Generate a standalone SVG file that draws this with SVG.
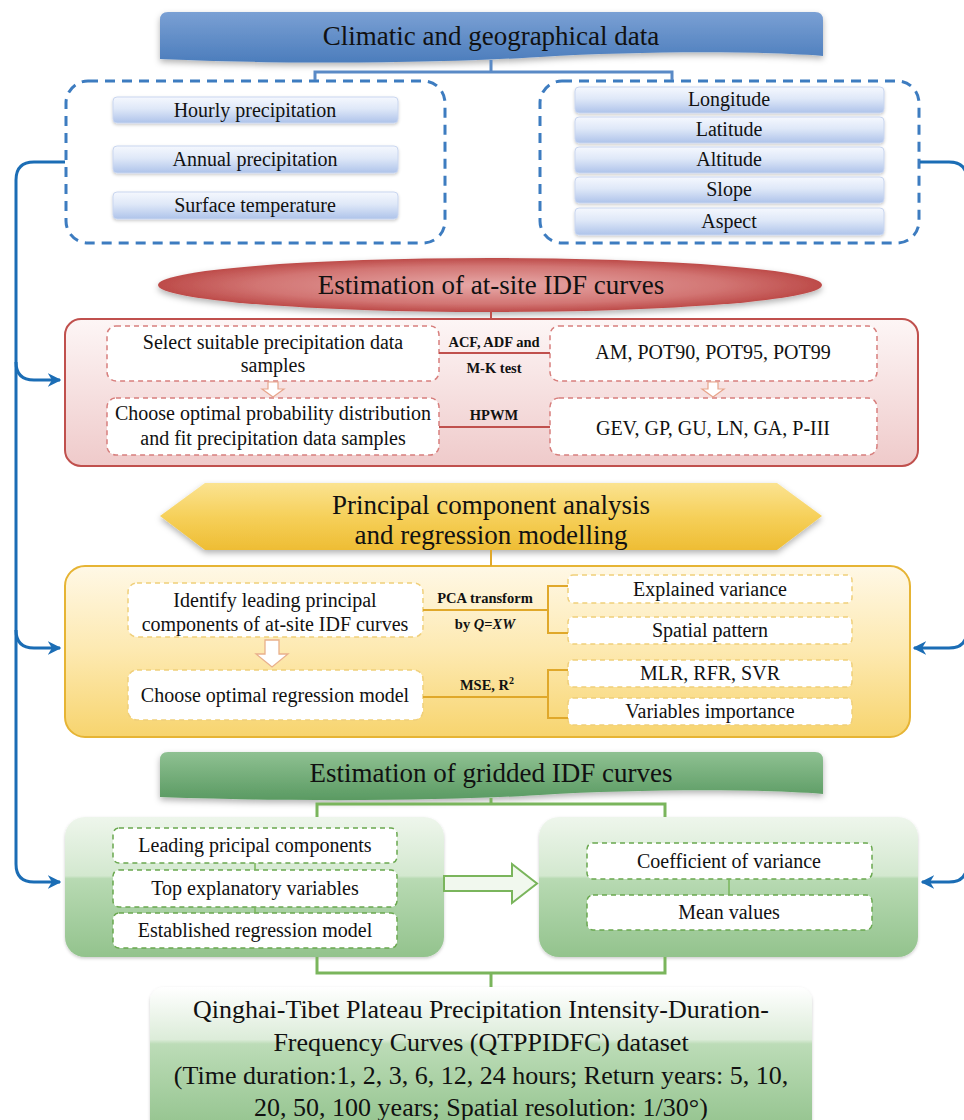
<svg xmlns="http://www.w3.org/2000/svg" width="964" height="1120" viewBox="0 0 964 1120">
<style>
text{font-family:"Liberation Serif","Times New Roman",serif;fill:#111;text-anchor:middle}
.h{font-size:27px}
.t{font-size:20px}
.b{font-size:14.5px;font-weight:bold}
.big{font-size:26px}
.dashblue{fill:none;stroke:#3d7cc0;stroke-width:3;stroke-dasharray:10 7}
.bluebox{fill:url(#gBlueBox);stroke:#c9d6ef;stroke-width:1}
.redin{fill:#fff;stroke:#d77f7d;stroke-width:1.5;stroke-dasharray:5 4}
.yelin{fill:#fff;stroke:#f0cf7a;stroke-width:1.5;stroke-dasharray:5 4}
.grnin{fill:#fff;stroke:#6aa84f;stroke-width:1.5;stroke-dasharray:5 4}
.lblue{fill:none;stroke:#5a8ac6;stroke-width:3}
.lred{fill:none;stroke:#c0504d;stroke-width:2}
.lyel{fill:none;stroke:#e0a82a;stroke-width:2}
.lgrn{fill:none;stroke:#7ab55c;stroke-width:3}
.lgrn2{fill:none;stroke:#7ab55c;stroke-width:1.5}
.fb{fill:none;stroke:#1b6db5;stroke-width:3}
</style>
<defs>
<filter id="sh" x="-5%" y="-10%" width="110%" height="130%"><feDropShadow dx="0" dy="3" stdDeviation="3" flood-color="#000" flood-opacity="0.3"/></filter>
<filter id="sh2" x="-5%" y="-10%" width="110%" height="130%"><feDropShadow dx="0" dy="1.5" stdDeviation="1.5" flood-color="#000" flood-opacity="0.2"/></filter>
<linearGradient id="gBlueH" x1="0" y1="0" x2="0" y2="1"><stop offset="0" stop-color="#7aa0d4"/><stop offset="1" stop-color="#4c7dbc"/></linearGradient>
<linearGradient id="gBlueBox" x1="0" y1="0" x2="0" y2="1"><stop offset="0" stop-color="#f5f8fe"/><stop offset="0.45" stop-color="#dfe8f8"/><stop offset="1" stop-color="#aec3ea"/></linearGradient>
<radialGradient id="gRedH" cx="0.5" cy="0.5" r="0.5"><stop offset="0" stop-color="#e7a9a8"/><stop offset="0.7" stop-color="#d27573"/><stop offset="1" stop-color="#bd4b49"/></radialGradient>
<linearGradient id="gRedBox" x1="0" y1="0" x2="0" y2="1"><stop offset="0" stop-color="#fdf6f6"/><stop offset="1" stop-color="#efcaca"/></linearGradient>
<linearGradient id="gYelH" x1="0" y1="0" x2="0" y2="1"><stop offset="0" stop-color="#fbe391"/><stop offset="0.5" stop-color="#f6d05a"/><stop offset="1" stop-color="#eebd34"/></linearGradient>
<linearGradient id="gYelBox" x1="0" y1="0" x2="0" y2="1"><stop offset="0" stop-color="#fff8e6"/><stop offset="0.5" stop-color="#fde9b0"/><stop offset="1" stop-color="#f7d46e"/></linearGradient>
<linearGradient id="gGrnH" x1="0" y1="0" x2="0" y2="1"><stop offset="0" stop-color="#8fc192"/><stop offset="1" stop-color="#5a9a62"/></linearGradient>
<linearGradient id="gGrnBox" x1="0" y1="0" x2="0" y2="1"><stop offset="0" stop-color="#eef6ec"/><stop offset="0.42" stop-color="#d3e8cf"/><stop offset="0.44" stop-color="#b8dab3"/><stop offset="1" stop-color="#93c38d"/></linearGradient>
<linearGradient id="gGrnBot" x1="0" y1="0" x2="0" y2="1"><stop offset="0" stop-color="#ffffff"/><stop offset="0.35" stop-color="#dcecd9"/><stop offset="0.38" stop-color="#bcdcb7"/><stop offset="1" stop-color="#90c18a"/></linearGradient>
<marker id="arr" viewBox="0 0 10 10" refX="9" refY="5" markerWidth="4.5" markerHeight="4.5" orient="auto" markerUnits="strokeWidth"><path d="M0,0 L10,5 L0,10 L3,5 Z" fill="#1b6db5"/></marker>
</defs>

<g id="header-climatic">
<path filter="url(#sh)" fill="url(#gBlueH)" d="M160,20 Q160,12 168,12 L815,12 Q823,12 823,20 L823,56 C760,51 640,51 540,57 C440,63 300,65 160,59 Z"/>
<text class="h" x="491" y="45">Climatic and geographical data</text>
</g>

<g id="climatic-box">
<rect class="dashblue" x="66" y="81" width="379" height="162" rx="22"/>
<g filter="url(#sh2)">
<rect class="bluebox" x="113" y="97" width="285" height="26" rx="4"/>
<rect class="bluebox" x="113" y="146" width="285" height="27" rx="4"/>
<rect class="bluebox" x="113" y="192" width="285" height="27" rx="4"/>
</g>
<text class="t" x="255" y="117">Hourly precipitation</text>
<text class="t" x="255" y="166">Annual precipitation</text>
<text class="t" x="255" y="212">Surface temperature</text>
</g>

<g id="geographical-box">
<rect class="dashblue" x="540" y="81" width="379" height="162" rx="22"/>
<g filter="url(#sh2)">
<rect class="bluebox" x="575" y="87" width="309" height="26" rx="4"/>
<rect class="bluebox" x="575" y="117" width="309" height="26" rx="4"/>
<rect class="bluebox" x="575" y="147" width="309" height="26" rx="4"/>
<rect class="bluebox" x="575" y="177" width="309" height="26" rx="4"/>
<rect class="bluebox" x="575" y="208" width="309" height="27" rx="4"/>
</g>
<text class="t" x="729" y="106">Longitude</text>
<text class="t" x="729" y="136">Latitude</text>
<text class="t" x="729" y="166">Altitude</text>
<text class="t" x="729" y="196">Slope</text>
<text class="t" x="729" y="228">Aspect</text>
</g>

<g id="header-atsite">
<ellipse filter="url(#sh)" cx="490" cy="285" rx="332" ry="27" fill="url(#gRedH)"/>
<text class="h" x="491" y="294">Estimation of at-site IDF curves</text>
</g>

<g id="atsite-box">
<rect x="65" y="319" width="853" height="147" rx="16" fill="url(#gRedBox)" stroke="#c0504d" stroke-width="2"/>
<rect class="redin" x="107" y="326" width="332" height="55" rx="9"/>
<rect class="redin" x="550" y="326" width="327" height="55" rx="9"/>
<rect class="redin" x="107" y="398" width="332" height="57" rx="9"/>
<rect class="redin" x="550" y="398" width="327" height="57" rx="9"/>
<text class="t" x="273" y="349">Select suitable precipitation data</text>
<text class="t" x="273" y="372">samples</text>
<text class="t" x="713" y="359">AM, POT90, POT95, POT99</text>
<text class="t" x="273" y="420">Choose optimal probability distribution</text>
<text class="t" x="273" y="445">and fit precipitation data samples</text>
<text class="t" x="713" y="435">GEV, GP, GU, LN, GA, P-III</text>
<text class="b" x="494" y="347">ACF, ADF and</text>
<text class="b" x="494" y="373">M-K test</text>
<text class="b" x="494" y="420">HPWM</text>
<path d="M268,382 H278 V389 H284 L273,397 L262,389 H268 Z" fill="#fff" stroke="#e7a58c" stroke-width="1.2"/>
<path d="M708,382 H718 V389 H724 L713,397 L702,389 H708 Z" fill="#fff" stroke="#e7a58c" stroke-width="1.2"/>
</g>

<g id="header-pca">
<polygon filter="url(#sh)" points="160,516 205,483 777,483 822,516 777,550 205,550" fill="url(#gYelH)"/>
<text class="h" x="491" y="514">Principal component analysis</text>
<text class="h" x="491" y="544">and regression modelling</text>
</g>

<g id="pca-box">
<rect x="65" y="566" width="845" height="171" rx="20" fill="url(#gYelBox)" stroke="#e6b434" stroke-width="2"/>
<rect class="yelin" x="128" y="583" width="295" height="54" rx="9"/>
<rect class="yelin" x="128" y="670" width="295" height="50" rx="9"/>
<rect class="yelin" x="568" y="575" width="284" height="28" rx="5"/>
<rect class="yelin" x="568" y="617" width="284" height="27" rx="5"/>
<rect class="yelin" x="568" y="660" width="284" height="27" rx="5"/>
<rect class="yelin" x="568" y="698" width="284" height="27" rx="5"/>
<text class="t" x="275" y="607">Identify leading principal</text>
<text class="t" x="275" y="631">components of at-site IDF curves</text>
<text class="t" x="275" y="702">Choose optimal regression model</text>
<text class="t" x="710" y="596">Explained variance</text>
<text class="t" x="710" y="637">Spatial pattern</text>
<text class="t" x="710" y="680">MLR, RFR, SVR</text>
<text class="t" x="710" y="718">Variables importance</text>
<text class="b" x="485" y="603">PCA transform</text>
<text class="b" x="485" y="629">by <tspan font-style="italic">Q</tspan>=<tspan font-style="italic">XW</tspan></text>
<text class="b" x="487" y="690">MSE, R<tspan font-size="10" dy="-6">2</tspan></text>
<path d="M265,640 H279 V654 H288 L272,667 L256,654 H265 Z" fill="#fff" stroke="#e9b08c" stroke-width="1.3"/>
</g>

<g id="header-gridded">
<path filter="url(#sh)" fill="url(#gGrnH)" d="M160,760 Q160,752 168,752 L815,752 Q823,752 823,760 L823,794 C760,789 640,789 540,795 C440,801 300,802 160,797 Z"/>
<text class="h" x="491" y="782">Estimation of gridded IDF curves</text>
</g>

<g id="gridded-left">
<rect x="65" y="817" width="379" height="140" rx="20" fill="url(#gGrnBox)" filter="url(#sh2)"/>
<rect class="grnin" x="113" y="828" width="284" height="35" rx="6"/>
<rect class="grnin" x="113" y="870" width="284" height="37" rx="6"/>
<rect class="grnin" x="113" y="913" width="284" height="35" rx="6"/>
<text class="t" x="255" y="852">Leading pricipal components</text>
<text class="t" x="255" y="895">Top explanatory variables</text>
<text class="t" x="255" y="937">Established regression model</text>
</g>

<g id="gridded-arrow">
<path d="M444,876 H512 V864 L537,883.5 L512,903 V891 H444 Z" fill="#f1f8ee" stroke="#7ab55c" stroke-width="2"/>
</g>

<g id="gridded-right">
<rect x="539" y="817" width="379" height="140" rx="20" fill="url(#gGrnBox)" filter="url(#sh2)"/>
<rect class="grnin" x="587" y="843" width="285" height="36" rx="6"/>
<rect class="grnin" x="587" y="895" width="285" height="35" rx="6"/>
<text class="t" x="729" y="868">Coefficient of variance</text>
<text class="t" x="729" y="919">Mean values</text>
</g>

<g id="dataset">
<rect x="150" y="987" width="662" height="150" rx="14" fill="url(#gGrnBot)" filter="url(#sh2)"/>
<text class="big" x="481" y="1018">Qinghai-Tibet Plateau Precipitation Intensity-Duration-</text>
<text class="big" x="481" y="1051">Frequency Curves (QTPPIDFC) dataset</text>
<text class="big" x="481" y="1084">(Time duration:1, 2, 3, 6, 12, 24 hours; Return years: 5, 10,</text>
<text class="big" x="481" y="1116">20, 50, 100 years; Spatial resolution: 1/30°)</text>
</g>

<g id="connectors">
<path class="lblue" d="M491,60 V72 M315,80 V72 H672 V80"/>
<path class="fb" d="M65,162 H34 Q16,162 16,180 V864 Q16,882 34,882 H60" marker-end="url(#arr)"/>
<path class="fb" d="M16,362 Q16,380 34,380 H60" marker-end="url(#arr)"/>
<path class="fb" d="M16,630 Q16,648 34,648 H60" marker-end="url(#arr)"/>
<path class="fb" d="M920,162 H949 Q967,162 967,180 V864 Q967,882 949,882 H922" marker-end="url(#arr)"/>
<path class="fb" d="M967,630 Q967,648 949,648 H914" marker-end="url(#arr)"/>
<path class="lred" d="M491,311 V319"/>
<path class="lred" d="M439,353 H550 M439,427 H550"/>
<path class="lyel" d="M491,550 V566"/>
<path class="lyel" d="M423,610 H548 M568,586 H548 V633 H568"/>
<path class="lyel" d="M423,697 H548 M568,670 H548 V718 H568"/>
<path class="lgrn" d="M491,798 V804 M317,817 V804 H665 V817"/>
<path class="lgrn" d="M317,957 V973 H665 V957 M491,973 V987"/>
<path class="lgrn2" d="M255,863 V870 M255,907 V913 M729,879 V895"/>
</g>
</svg>
